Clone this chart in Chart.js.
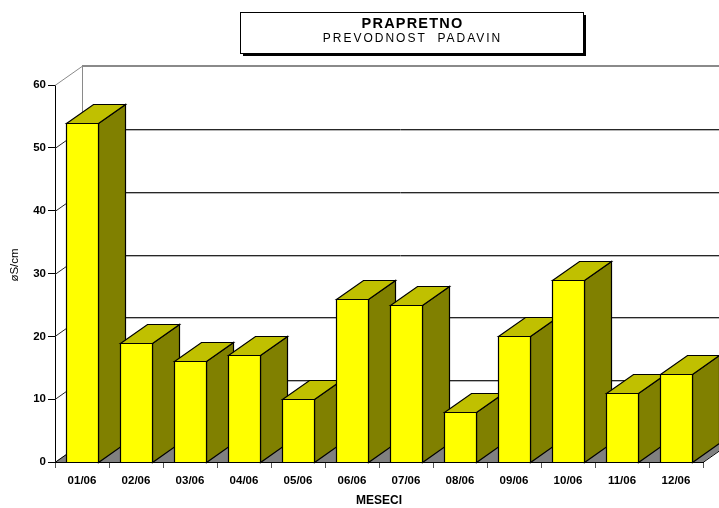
<!DOCTYPE html>
<html>
<head>
<meta charset="utf-8">
<script src="https://cdn.jsdelivr.net/npm/chart.js@4/dist/chart.umd.min.js"></script>
<style>
  html, body { margin: 0; padding: 0; background: #ffffff; }
  #wrap { width: 719px; height: 508px; }
</style>
</head>
<body>
<div id="wrap"><canvas id="c" width="719" height="508"></canvas></div>
<script>
// Monthly precipitation conductivity
const months = ['01/06', '02/06', '03/06', '04/06', '05/06', '06/06',
                '07/06', '08/06', '09/06', '10/06', '11/06', '12/06'];
const conductivity = [54, 19, 16, 17, 10, 26, 25, 8, 20, 29, 11, 14];

const yMin = 0;
const yMax = 60;
const yStep = 10;

const titleText = 'PRAPRETNO';
const subtitleText = 'PREVODNOST  PADAVIN';
const xTitle = 'MESECI';
const yTitle = 'øS/cm';

// depth of the pseudo-3D projection
const DX = 27;
const DY = 19;

const FRONT = '#ffff00';
const TOP = '#c0c000';
const SIDE = '#808000';
const FLOOR = '#808080';
const FONT = '"Liberation Sans", Arial, sans-serif';

const depth3d = {
  id: 'depth3d',
  beforeDatasetsDraw(chart) {
    const { ctx, chartArea: a, scales: { y } } = chart;
    const W = chart.width;
    const l = a.left, r = a.right, b = a.bottom;
    ctx.save();

    // floor
    ctx.fillStyle = FLOOR;
    ctx.beginPath();
    ctx.moveTo(l, b);
    ctx.lineTo(r, b);
    ctx.lineTo(r + DX, b - DY);
    ctx.lineTo(l + DX, b - DY);
    ctx.closePath();
    ctx.fill();

    // back wall edge
    const topPx = Math.round(y.getPixelForValue(yMax));
    ctx.strokeStyle = '#8a8a8a';
    ctx.lineWidth = 1;
    ctx.beginPath();
    ctx.moveTo(l + DX + 0.5, topPx - DY);
    ctx.lineTo(l + DX + 0.5, b - DY);
    ctx.stroke();

    // back wall grid lines and side wall diagonals
    y.ticks.forEach(t => {
      const py = Math.round(y.getPixelForValue(t.value));
      const back = py - DY;
      if (t.value === yMax) {
        ctx.strokeStyle = '#8a8a8a';
        ctx.lineWidth = 2;
        ctx.beginPath();
        ctx.moveTo(l + DX, back);
        ctx.lineTo(W, back);
        ctx.stroke();
        ctx.lineWidth = 1;
        ctx.beginPath();
        ctx.moveTo(l, py + 0.5);
        ctx.lineTo(l + DX, back + 0.5);
        ctx.stroke();
      } else if (t.value > yMin) {
        ctx.lineWidth = 1;
        ctx.strokeStyle = '#b4b4b4';
        ctx.beginPath();
        ctx.moveTo(l + DX, back + 1.5);
        ctx.lineTo(W, back + 1.5);
        ctx.stroke();
        ctx.strokeStyle = '#262626';
        ctx.beginPath();
        ctx.moveTo(l + DX, back + 0.5);
        ctx.lineTo(W, back + 0.5);
        ctx.stroke();
        ctx.beginPath();
        ctx.moveTo(l, py + 0.5);
        ctx.lineTo(l + DX, back + 0.5);
        ctx.stroke();
      }
    });

    // floor edges
    ctx.strokeStyle = '#000';
    ctx.lineWidth = 1;
    ctx.beginPath();
    ctx.moveTo(l, b + 0.5);
    ctx.lineTo(l + DX, b - DY + 0.5);
    ctx.moveTo(r, b + 0.5);
    ctx.lineTo(r + DX, b - DY + 0.5);
    ctx.stroke();
    ctx.beginPath();
    ctx.moveTo(l, b + 0.5);
    ctx.lineTo(r, b + 0.5);
    ctx.stroke();

    ctx.restore();
  },
  afterDatasetsDraw(chart) {
    const { ctx } = chart;
    const meta = chart.getDatasetMeta(0);
    ctx.save();
    ctx.lineWidth = 1.2;
    ctx.strokeStyle = '#000';
    ctx.lineJoin = 'miter';
    meta.data.forEach(bar => {
      const p = bar.getProps(['x', 'y', 'base', 'width'], true);
      const left = Math.round(p.x - p.width / 2) + 0.5;
      const right = Math.round(p.x + p.width / 2) + 0.5;
      const top = Math.round(p.y) + 0.5;
      const base = Math.round(p.base) + 0.5;

      // right side face
      ctx.fillStyle = SIDE;
      ctx.beginPath();
      ctx.moveTo(right, top);
      ctx.lineTo(right + DX, top - DY);
      ctx.lineTo(right + DX, base - DY);
      ctx.lineTo(right, base);
      ctx.closePath();
      ctx.fill();
      ctx.stroke();

      // top face
      ctx.fillStyle = TOP;
      ctx.beginPath();
      ctx.moveTo(left, top);
      ctx.lineTo(left + DX, top - DY);
      ctx.lineTo(right + DX, top - DY);
      ctx.lineTo(right, top);
      ctx.closePath();
      ctx.fill();
      ctx.stroke();

      // front face
      ctx.fillStyle = FRONT;
      ctx.beginPath();
      ctx.rect(left, top, right - left, base - top);
      ctx.fill();
      ctx.stroke();
    });
    ctx.restore();
  },
  afterDraw(chart) {
    const { ctx } = chart;
    ctx.save();

    // title box with shadow
    const bx = 240, by = 12, bw = 343, bh = 41;
    ctx.fillStyle = '#000';
    ctx.fillRect(bx + 3, by + 3, bw, bh);
    ctx.fillStyle = '#fff';
    ctx.fillRect(bx, by, bw, bh);
    ctx.strokeStyle = '#000';
    ctx.lineWidth = 1;
    ctx.strokeRect(bx + 0.5, by + 0.5, bw, bh);

    ctx.fillStyle = '#000';
    ctx.textAlign = 'center';
    ctx.textBaseline = 'alphabetic';
    ctx.font = 'bold 14.5px ' + FONT;
    ctx.letterSpacing = '1.2px';
    ctx.fillText(titleText, bx + bw / 2 + 1, 27.5);
    ctx.font = '12px ' + FONT;
    ctx.letterSpacing = '2px';
    ctx.fillText(subtitleText, bx + bw / 2 + 1, 41.5);
    ctx.letterSpacing = '0px';

    // y axis title
    ctx.translate(15, 265);
    ctx.rotate(-Math.PI / 2);
    ctx.font = '11.5px ' + FONT;
    ctx.textBaseline = 'middle';
    ctx.fillText(yTitle, 0, 0);
    ctx.restore();
  }
};

new Chart(document.getElementById('c'), {
  type: 'bar',
  data: {
    labels: months,
    datasets: [{
      data: conductivity,
      backgroundColor: FRONT,
      borderColor: '#000',
      borderWidth: 1,
      barPercentage: 32 / 54,
      categoryPercentage: 1
    }]
  },
  options: {
    responsive: false,
    animation: false,
    events: [],
    layout: { padding: { top: 85, right: 16, bottom: 0, left: 0 } },
    plugins: {
      legend: { display: false },
      tooltip: { enabled: false },
      title: { display: false }
    },
    scales: {
      x: {
        afterFit: s => { s.height = 46; },
        grid: { display: true, drawOnChartArea: false, tickLength: 6, color: '#555', offset: true },
        border: { display: true, color: '#000' },
        ticks: { color: '#000', padding: 6, font: { family: FONT, size: 11.5, weight: 'bold' } },
        title: {
          display: true, text: xTitle, color: '#000',
          font: { family: FONT, size: 12, weight: 'bold' },
          padding: { top: 0, bottom: 0 }
        }
      },
      y: {
        min: yMin,
        max: yMax,
        afterFit: s => { s.width = 55; },
        grid: { display: true, drawOnChartArea: false, tickLength: 7, color: '#000' },
        border: { display: true, color: '#000' },
        ticks: { stepSize: yStep, color: '#000', padding: 2, font: { family: FONT, size: 11.5, weight: 'bold' } }
      }
    }
  },
  plugins: [depth3d]
});
</script>
</body>
</html>
